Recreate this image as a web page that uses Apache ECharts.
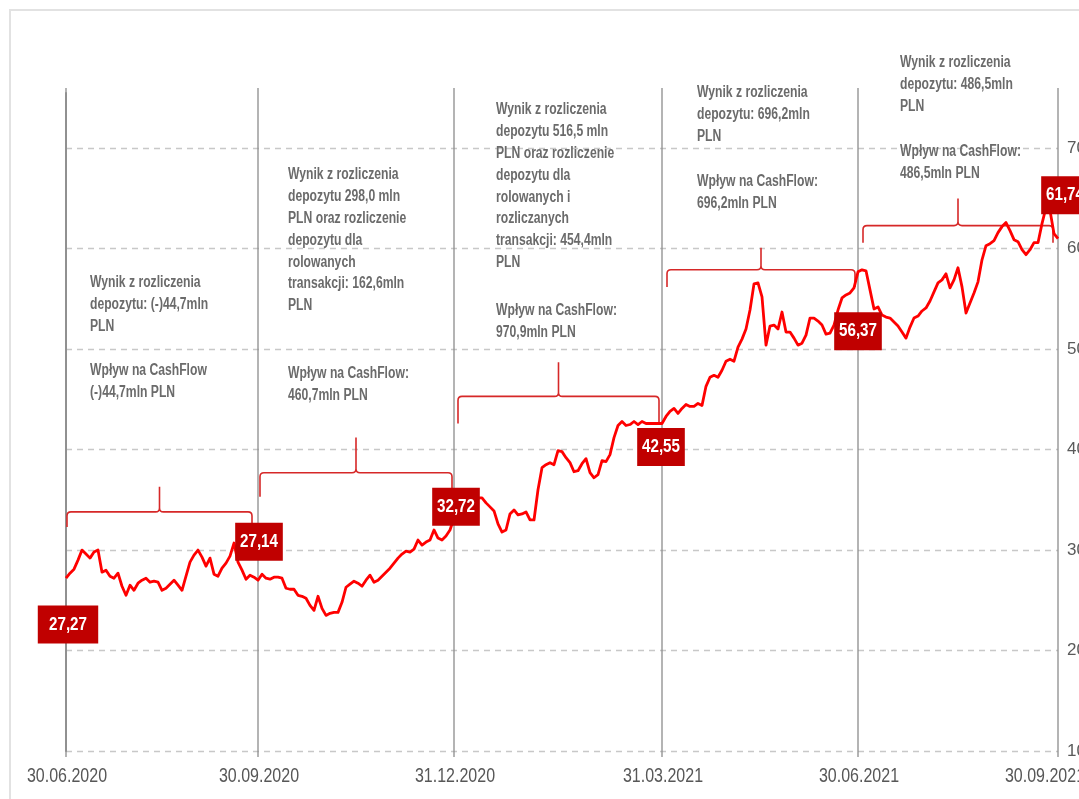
<!DOCTYPE html>
<html>
<head>
<meta charset="utf-8">
<script src="https://cdn.jsdelivr.net/npm/echarts@6/dist/echarts.min.js"></script>
<style>
html,body{margin:0;padding:0;background:#fff;}
#chart{width:1079px;height:799px;}
</style>
</head>
<body>
<div id="chart"></div>
<script>
// Share price samples (PLN), one array per quarter
const q3_2020 = [27.2,27.7,28.1,29.0,30.0,29.6,29.2,29.8,30.0,27.8,28.0,27.4,27.2,27.7,26.4,25.5,26.5,26.0,26.7,27.0,27.2,26.8,26.9,26.8,26.0,26.2,26.6,27.0,26.5,26.0,27.4,28.8,29.5,30.0,29.3,28.4,29.2,27.6,27.4,28.2,28.7,29.4,30.7,28.8,28.0,27.1,27.5,27.3,27.0];
const q4_2020 = [27.6,27.2,27.1,27.3,27.3,27.2,26.2,26.1,26.1,25.5,25.4,25.2,24.5,24.0,25.4,24.2,23.5,23.7,23.8,23.8,24.8,26.3,26.6,26.9,26.7,26.4,27.0,27.5,26.8,27.0,27.4,27.8,28.2,28.7,29.2,29.6,29.9,29.8,30.1,31.0,30.5,30.8,31.0,32.0,31.2,31.0,31.4,32.0,33.2];
const q1_2021 = [33.8,34.2,34.6,35.0,35.2,35.2,35.2,34.7,34.3,33.9,32.6,31.8,32.0,33.6,34.0,33.5,33.6,33.8,33.0,33.0,36.0,38.2,38.5,38.7,38.5,39.9,39.8,39.2,38.7,37.8,37.9,38.6,39.1,37.7,37.2,37.5,38.9,38.8,39.5,41.2,42.4,42.8,42.4,42.5,42.8,42.5,42.8,42.6,42.6,42.6,42.6,42.6];
const q2_2021 = [43.3,43.8,44.1,43.6,44.1,44.5,44.3,44.3,44.6,44.4,46.3,47.2,47.4,47.2,47.9,48.8,49.0,48.8,50.2,51.0,52.0,53.9,56.5,56.6,55.2,50.4,52.3,52.4,52.0,53.7,51.7,51.7,51.1,50.4,50.6,51.4,53.1,53.1,52.8,52.4,51.5,51.6,52.4,53.9,55.1,55.4,55.6,56.1,57.7];
const q3_2021 = [57.9,57.8,55.9,54.0,54.2,53.4,53.2,53.1,52.7,52.3,51.7,51.1,52.2,53.1,53.3,53.8,54.1,54.8,55.7,56.6,56.9,57.5,56.1,56.9,58.1,56.2,53.6,54.6,55.6,56.7,58.9,60.3,60.5,60.8,61.6,62.2,62.6,61.8,60.9,60.7,59.9,59.4,59.9,60.6,60.6,62.5,64.1,63.8,61.5,61.0];

// Quarter-end sample positions and their tick labels
const quarterIdx = [0, 48, 97, 149, 198, 248];
const quarterLabels = ['30.06.2020', '30.09.2020', '31.12.2020', '31.03.2021', '30.06.2021', '30.09.2021'];
// Quarter-end prices shown in the red boxes
const quarterPrices = [27.27, 27.14, 32.72, 42.55, 56.37, 61.74];

// Brackets: [start sample, end sample, end level, bar level, tip level]
const brackets = [
  [0.25, 46.5, 32.3, 33.8, 36.3],
  [48.5, 96.5, 35.3, 37.7, 41.2],
  [98, 148.25, 42.6, 45.3, 48.7],
  [150.25, 197.25, 56.2, 57.9, 60.1],
  [199.25, 246.75, 60.6, 62.3, 65.0]
];

// Y-axis range
const yMin = 10, yMax = 75.5, yStep = 10;

const price = [].concat(q3_2020, q4_2020, q1_2021, q2_2021, q3_2021);

const FONT = "'Liberation Sans', Arial, sans-serif";
const TXT = '#6b6b6b';
const NARROW_SCALE = 0.76;

const chart = echarts.init(document.getElementById('chart'));

const boxOffsets = [[2, 47], [1, -37], [2, -16], [-1, 23], [0, 46], [7, -36]];

function textBlock(x, yCenter, text) {
  return {
    type: 'text', x: x, y: yCenter - 11, silent: true, z: 10, scaleX: NARROW_SCALE,
    style: {
      text: text, fill: TXT, fontFamily: FONT, fontSize: 16, fontWeight: 'bold',
      lineHeight: 21.8, verticalAlign: 'top', align: 'left'
    }
  };
}

chart.setOption({
  animation: false,
  backgroundColor: '#ffffff',
  grid: { left: 66, right: 21, top: 93, bottom: 48, containLabel: false, outerBoundsMode: 'none' },
  xAxis: {
    type: 'value', min: 0, max: price.length - 1,
    axisLine: { show: false }, axisTick: { show: false }, splitLine: { show: false },
    axisLabel: { show: false }
  },
  yAxis: {
    type: 'value', position: 'right', min: yMin, max: yMax, interval: yStep,
    axisLine: { show: true, lineStyle: { color: '#9a9a9a', width: 2 } },
    axisTick: { show: false },
    axisLabel: { color: '#5a5a5a', fontSize: 17, fontFamily: FONT, margin: 9, showMaxLabel: false },
    splitLine: { show: true, showMaxLine: false, lineStyle: { color: '#c8c8c8', type: [6, 5], width: 1.4 } }
  },
  graphic: [
    { type: 'rect', silent: true, z: -10, shape: { x: 10, y: 10, width: 1200, height: 1000 },
      style: { fill: 'none', stroke: '#e2e2e2', lineWidth: 2 } },
    textBlock(90, 283, 'Wynik z rozliczenia\ndepozytu: (-)44,7mln\nPLN'),
    textBlock(90, 371, 'Wpływ na CashFlow\n(-)44,7mln PLN'),
    textBlock(288, 175, 'Wynik z rozliczenia\ndepozytu 298,0 mln\nPLN oraz rozliczenie\ndepozytu dla\nrolowanych\ntransakcji: 162,6mln\nPLN'),
    textBlock(288, 374, 'Wpływ na CashFlow:\n460,7mln PLN'),
    textBlock(496, 110, 'Wynik z rozliczenia\ndepozytu 516,5 mln\nPLN oraz rozliczenie\ndepozytu dla\nrolowanych i\nrozliczanych\ntransakcji: 454,4mln\nPLN'),
    textBlock(496, 311, 'Wpływ na CashFlow:\n970,9mln PLN'),
    textBlock(697, 93, 'Wynik z rozliczenia\ndepozytu: 696,2mln\nPLN'),
    textBlock(697, 182, 'Wpływ na CashFlow:\n696,2mln PLN'),
    textBlock(900, 63, 'Wynik z rozliczenia\ndepozytu: 486,5mln\nPLN'),
    textBlock(900, 152, 'Wpływ na CashFlow:\n486,5mln PLN')
  ],
  series: [
    {
      name: 'quarters', type: 'custom', z: 1, silent: true, clip: false,
      data: quarterIdx.map(function (i, k) { return [i, k]; }),
      renderItem: function (params, api) {
        const k = api.value(1);
        const x = api.coord([api.value(0), yMin])[0];
        const cs = params.coordSys;
        const bottom = cs.y + cs.height;
        const shift = k === quarterIdx.length - 1 ? -13 : 1;
        return {
          type: 'group',
          children: [
            { type: 'line', shape: { x1: x, y1: cs.y - 5, x2: x, y2: bottom + 6 },
              style: { stroke: '#8c8c8c', lineWidth: 1.3 } },
            { type: 'text', x: x + shift, y: bottom + 25, scaleX: 0.8,
              style: { text: quarterLabels[k], align: 'center', verticalAlign: 'middle',
                fill: '#575757', fontFamily: FONT, fontSize: 20 } }
          ]
        };
      }
    },
    {
      name: 'brackets', type: 'custom', z: 3, silent: true,
      data: brackets,
      renderItem: function (params, api) {
        const x0 = api.coord([api.value(0), yMin])[0];
        const x1 = api.coord([api.value(1), yMin])[0];
        const yEnd = api.coord([0, api.value(2)])[1];
        const yBar = api.coord([0, api.value(3)])[1];
        const yTip = api.coord([0, api.value(4)])[1];
        const xc = (x0 + x1) / 2, r = 4;
        const d = 'M' + x0 + ',' + yEnd + ' L' + x0 + ',' + (yBar + r) +
          ' Q' + x0 + ',' + yBar + ' ' + (x0 + r) + ',' + yBar +
          ' L' + (xc - r) + ',' + yBar + ' Q' + xc + ',' + yBar + ' ' + xc + ',' + (yBar - r) +
          ' L' + xc + ',' + yTip + ' M' + xc + ',' + (yBar - r) +
          ' Q' + xc + ',' + yBar + ' ' + (xc + r) + ',' + yBar +
          ' L' + (x1 - r) + ',' + yBar + ' Q' + x1 + ',' + yBar + ' ' + x1 + ',' + (yBar + r) +
          ' L' + x1 + ',' + yEnd;
        return { type: 'path', shape: { pathData: d },
          style: { stroke: '#d62828', lineWidth: 1.6, fill: null } };
      }
    },
    {
      name: 'Kurs', type: 'line', z: 5, symbol: 'none', silent: true,
      data: price.map(function (v, i) { return [i, v]; }),
      lineStyle: { color: '#ff0000', width: 2.8, join: 'round' }
    },
    {
      name: 'labels', type: 'custom', z: 8, silent: true, clip: false,
      data: quarterIdx.map(function (i, k) { return [i, quarterPrices[k], k]; }),
      renderItem: function (params, api) {
        const k = api.value(2);
        const p = api.coord([api.value(0), api.value(1)]);
        const off = boxOffsets[k];
        return {
          type: 'text', x: p[0] + off[0], y: p[1] + off[1], scaleX: 0.8,
          style: {
            text: api.value(1).toFixed(2).replace('.', ','),
            align: 'center', verticalAlign: 'middle',
            fill: '#ffffff', fontFamily: FONT, fontSize: 19, fontWeight: 'bold',
            backgroundColor: '#c00000',
            padding: k === 0 ? [10, 14, 9, 14] : [10, 6, 9, 6]
          }
        };
      }
    }
  ]
});
</script>
</body>
</html>
